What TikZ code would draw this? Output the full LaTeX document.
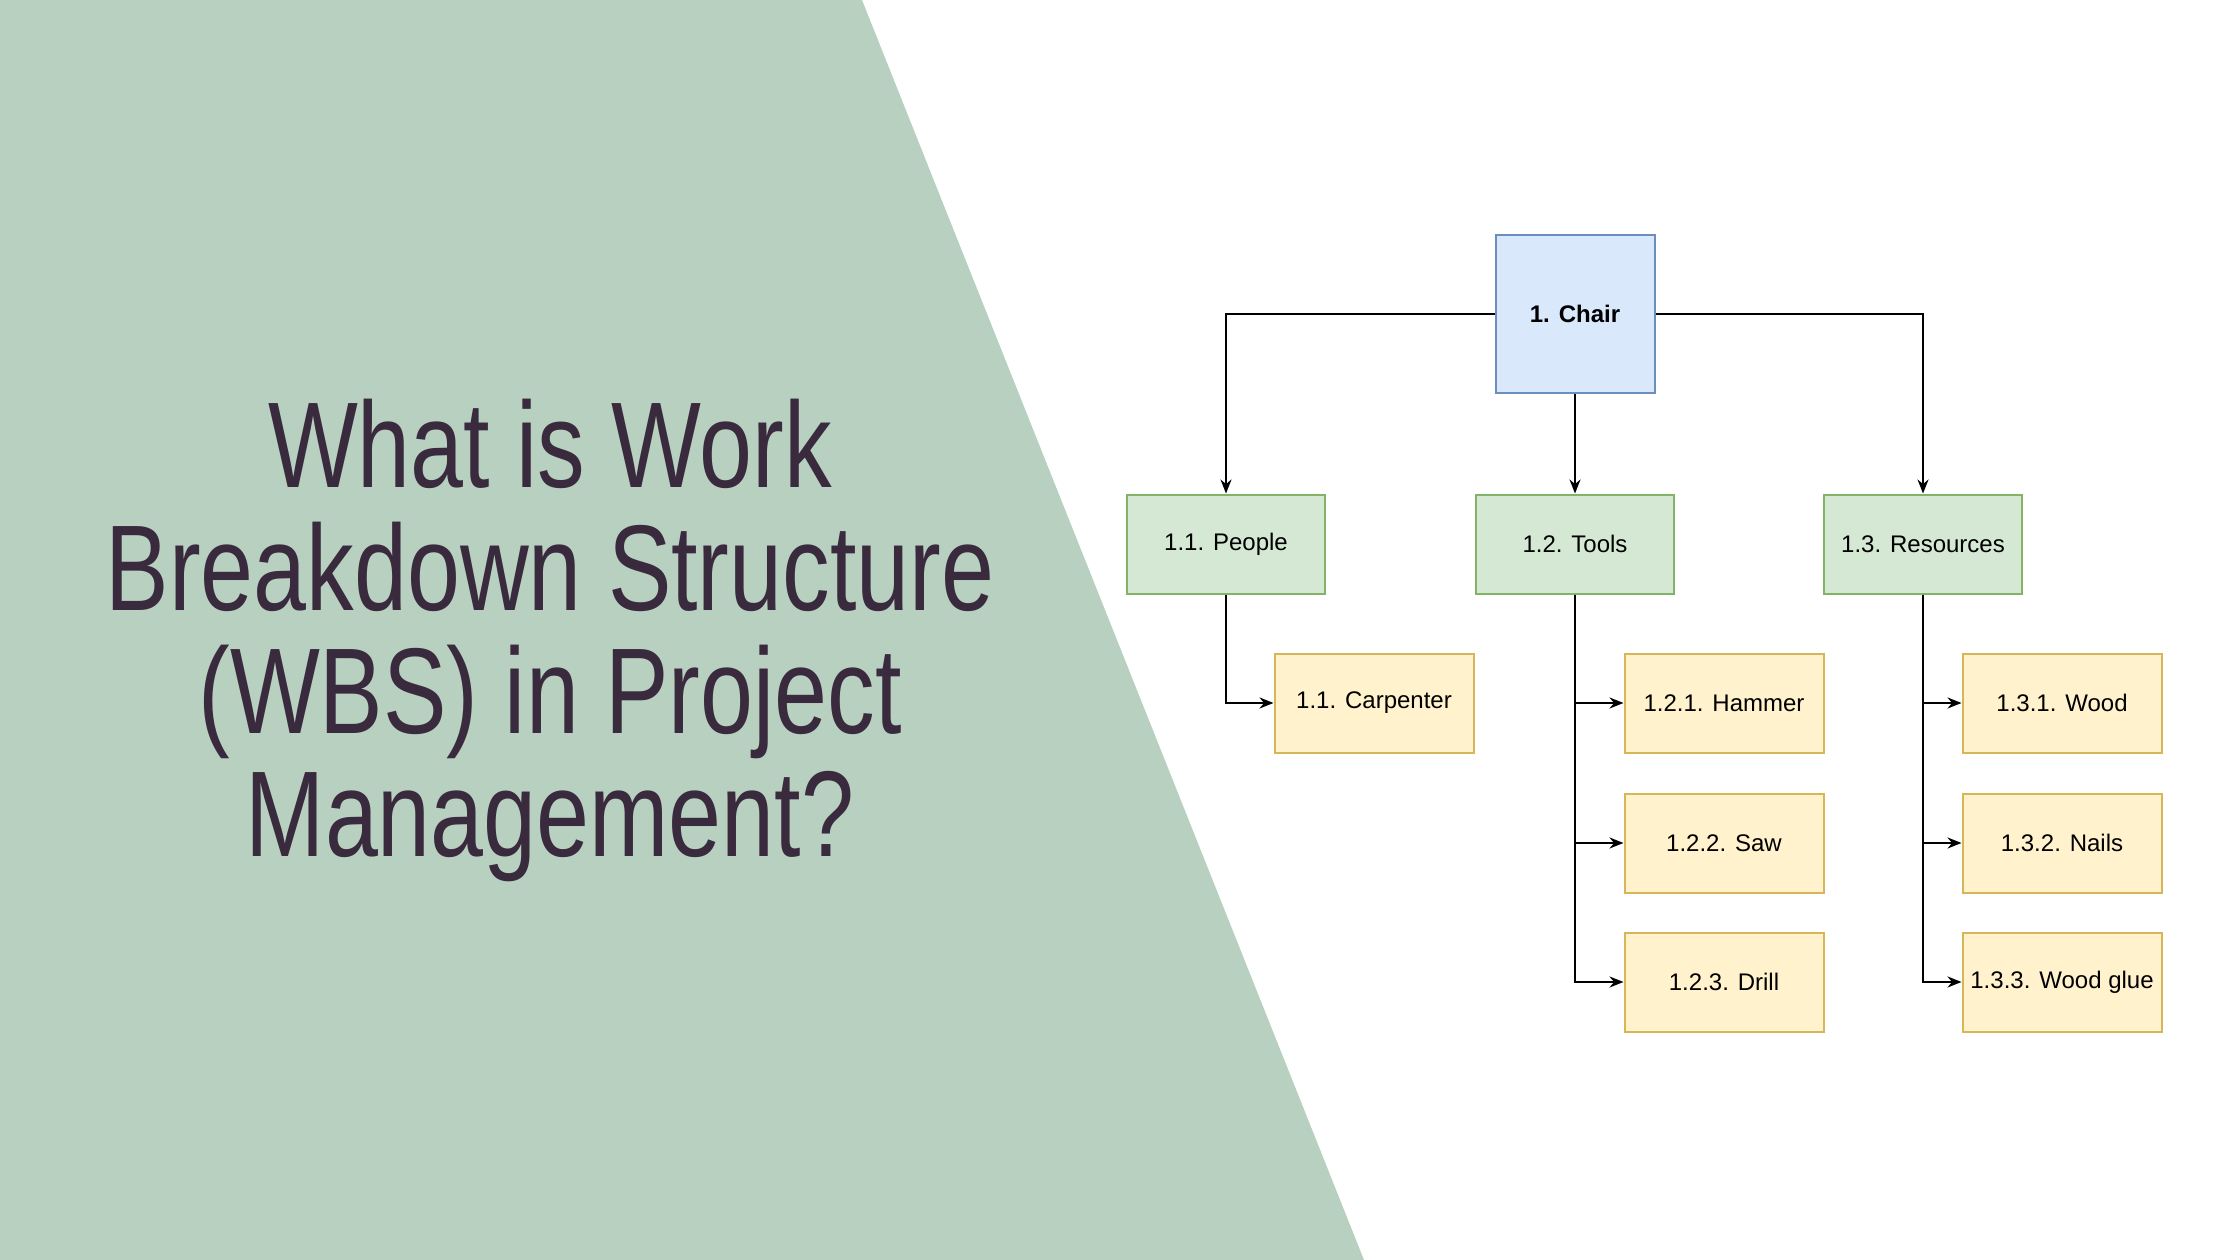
\documentclass[tikz,border=0pt]{standalone}
\usepackage{fontspec}
\setmainfont{Liberation Sans}
\newfontfamily\titlefont[FakeStretch=0.78]{Liberation Sans}
\usetikzlibrary{positioning,arrows.meta}
\definecolor{bgcolor}{HTML}{B8D0C0}
\definecolor{titlecolor}{HTML}{3A2A3E}
\definecolor{rootfill}{HTML}{DAE8FC}
\definecolor{rootline}{HTML}{6C8EBF}
\definecolor{groupfill}{HTML}{D5E8D4}
\definecolor{groupline}{HTML}{82B366}
\definecolor{leaffill}{HTML}{FFF2CC}
\definecolor{leafline}{HTML}{D6B656}

\begin{document}
\begin{tikzpicture}[x=1pt,y=-1pt,
    root/.style={rectangle, draw=rootline, fill=rootfill, line width=2pt, minimum width=159pt, minimum height=158pt, font=\fontsize{24}{28}\selectfont\bfseries},
    group/.style={rectangle, draw=groupline, fill=groupfill, line width=2pt, minimum width=198pt, minimum height=99pt, font=\fontsize{24}{28}\selectfont},
    leaf/.style={rectangle, draw=leafline, fill=leaffill, line width=2pt, minimum width=199pt, minimum height=99pt, font=\fontsize{24}{28}\selectfont},
    link/.style={line width=2pt, -{Stealth[length=14pt,width=11pt]}},
]
    % Background
    \fill[white] (0,0) rectangle (2240,1260);
    \fill[bgcolor] (0,0) -- (862,0) -- (1364,1260) -- (0,1260) -- cycle;
    \useasboundingbox (0,0) rectangle (2240,1260);

    % Title
    \node[font=\titlefont\fontsize{122}{123}\selectfont, text=titlecolor, align=center] (title) at (550,640)
        {What is Work\\Breakdown Structure\\(WBS) in Project\\Management?};

    % Root and groups
    \node[root] (chair) at (1575,314) {1. Chair};
    \node[group] (people) at (1226,544) {1.1. People};
    \node[group] (tools) at (1575,544) {1.2. Tools};
    \node[group] (resources) at (1923,544) {1.3. Resources};

    % Leaves
    \node[leaf] (carpenter) at (1374,703) {1.1. Carpenter};
    \node[leaf] (hammer) at (1724,703) {1.2.1. Hammer};
    \node[leaf] (saw) at (1724,843) {1.2.2. Saw};
    \node[leaf] (drill) at (1724,982) {1.2.3. Drill};
    \node[leaf] (wood) at (2062,703) {1.3.1. Wood};
    \node[leaf] (nails) at (2062,843) {1.3.2. Nails};
    \node[leaf] (glue) at (2062,982) {1.3.3. Wood glue};

    % Arrows
    \draw[link] (chair.west) -| (people.north);
    \draw[link] (chair.east) -| (resources.north);
    \draw[link] (chair) -- (tools);
    \draw[link] (people.south) |- (carpenter.west);
    \foreach \n in {hammer, saw, drill} {
        \draw[link] (tools.south) |- (\n.west);
    }
    \foreach \n in {wood, nails, glue} {
        \draw[link] (resources.south) |- (\n.west);
    }
\end{tikzpicture}
\end{document}
